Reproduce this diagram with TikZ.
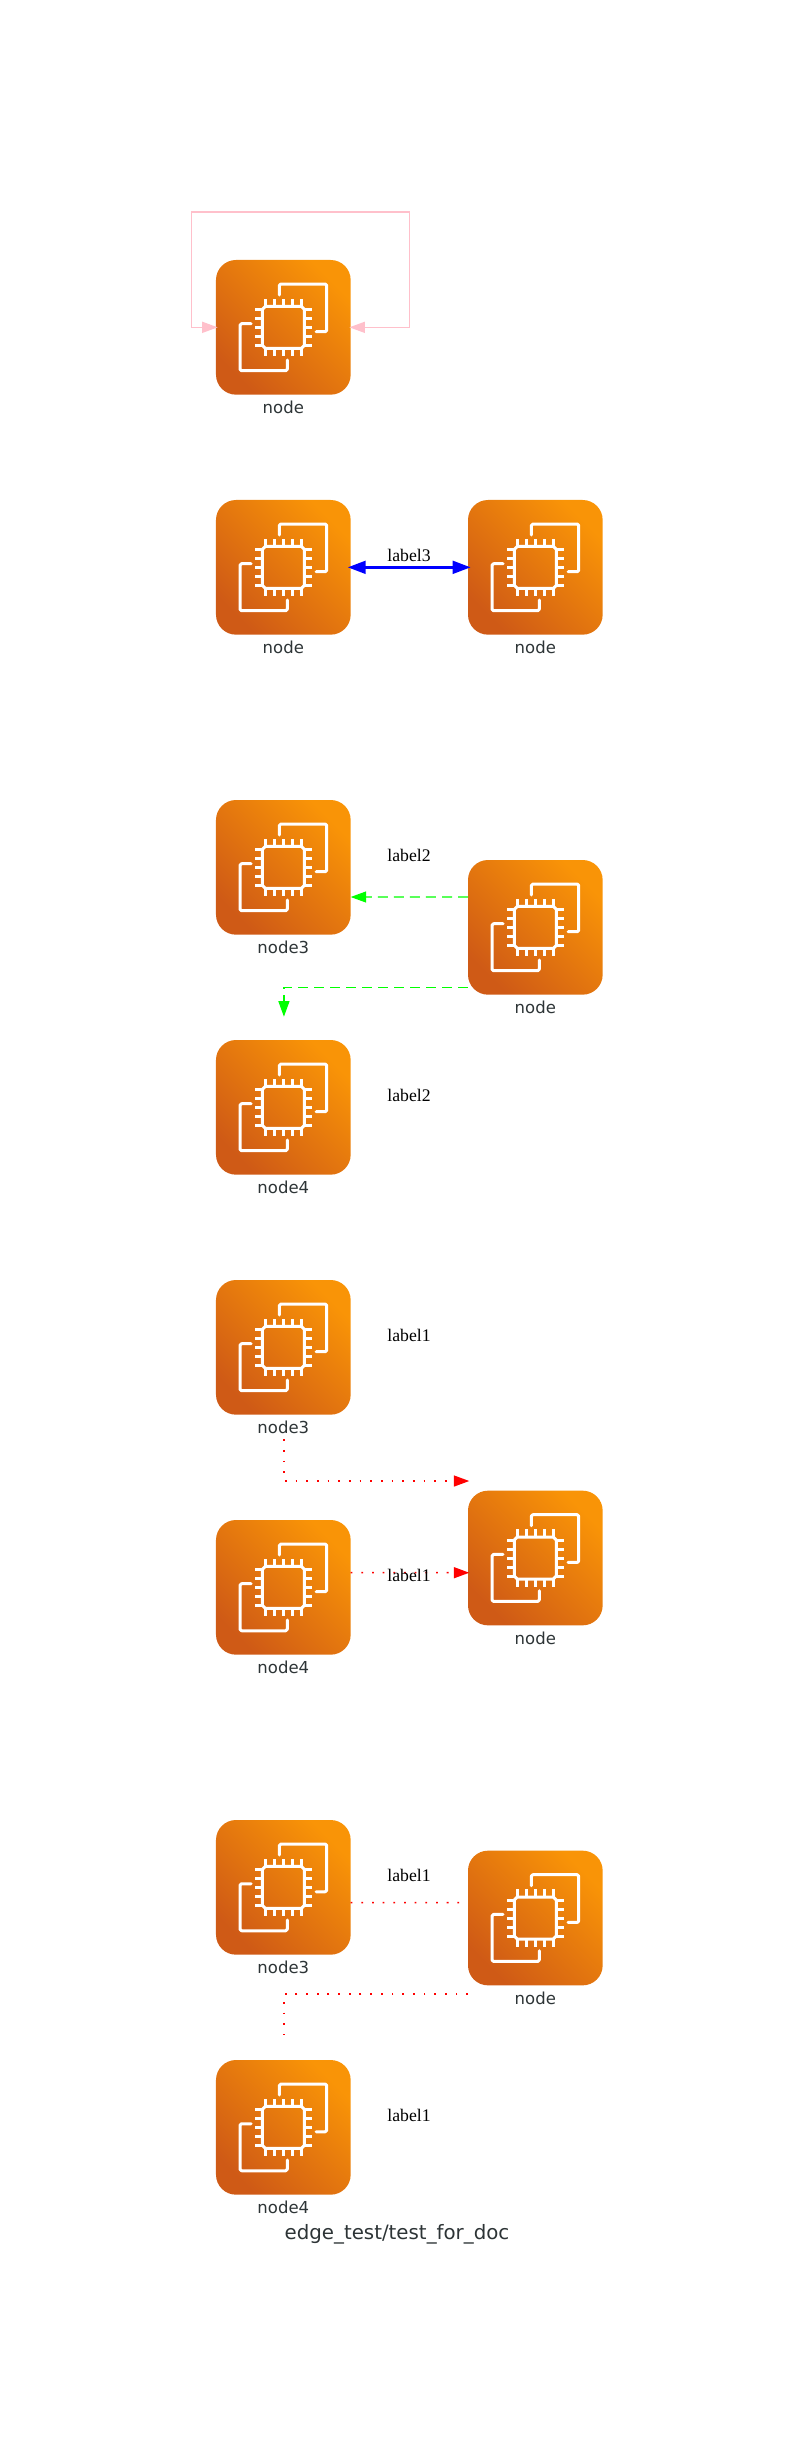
\documentclass[tikz,border=0pt]{standalone}
\usepackage{fontspec}
\setmainfont{DejaVu Sans}
\newfontfamily\edgefont{Liberation Serif}
\usetikzlibrary{arrows.meta,calc}
\definecolor{awsdark}{HTML}{CF5A16}
\definecolor{awslight}{HTML}{F99407}
\definecolor{inktext}{HTML}{2D3436}
\definecolor{pinkline}{HTML}{FFC0CB}
\tikzset{
  iconbox/.style={rectangle,minimum size=134.67bp,inner sep=0pt,outer sep=0pt,rounded corners=20bp,
    bottom color=awsdark,top color=awslight,middle color=awsdark!50!awslight,shading angle=-45},
  nodetext/.style={anchor=base,inner sep=0pt,text=inktext,font=\fontsize{16.5bp}{20bp}\selectfont},
  titletext/.style={anchor=base,inner sep=0pt,text=inktext,font=\fontsize{19.8bp}{24bp}\selectfont},
  edgetext/.style={anchor=base,inner sep=0pt,text=black,font=\edgefont\fontsize{17.7bp}{21bp}\selectfont},
  chipline/.style={draw=white,line width=3bp,line cap=round,line join=round,rounded corners=1.5bp},
  pintick/.style={draw=white,line width=3bp},
  pinkedge/.style={draw=pinkline,line width=1.4bp},
  blueedge/.style={draw=blue,line width=3bp},
  greenedge/.style={draw=green,line width=1.2bp,dash pattern=on 10bp off 6bp},
  rededge/.style={draw=red,line width=1.5bp,dash pattern=on 1.8bp off 8.87bp},
  pinktip/.tip={Triangle[length=15.5bp,width=11bp,color=pinkline]},
  bluetip/.tip={Triangle[length=18bp,width=12.6bp,color=blue]},
  greentip/.tip={Triangle[length=15.5bp,width=11bp,color=green]},
  redtip/.tip={Triangle[length=15.5bp,width=11bp,color=red]},
  chipicon/.pic={
    \draw[chipline] (-4,-32.3) -- (-4,-43.3) -- (43.4,-43.3) -- (43.4,4.4) -- (32.7,4.4);
    \draw[chipline] (-32.3,-3.6) -- (-43.3,-3.6) -- (-43.3,43.4) -- (4,43.4) -- (4,32.7);
    \foreach \p in {-18,-9,0,9,18}{
      \draw[pintick] (\p,-21) -- (\p,-28.7);
      \draw[pintick] (\p,21) -- (\p,28.7);
      \draw[pintick] (-21,\p) -- (-28.7,\p);
      \draw[pintick] (21,\p) -- (28.7,\p);
    }
    \draw[draw=white,line width=3bp,line join=round]
      (-18,-21) -- (18,-21) -- (21,-18) -- (21,18) -- (18,21) -- (-18,21) -- (-21,18) -- (-21,-18) -- cycle;
  }
}
\begin{document}
\begin{tikzpicture}[x=1bp,y=-1bp]
\useasboundingbox (0,0) rectangle (795,2444);

% icons
\node[iconbox] (a1) at (283.33,327.33) {};
\node[iconbox] (b1) at (283.33,567.33) {};
\node[iconbox] (b2) at (535.33,567.33) {};
\node[iconbox] (c1) at (283.33,867.33) {};
\node[iconbox] (c2) at (535.33,927.33) {};
\node[iconbox] (c3) at (283.33,1107.33) {};
\node[iconbox] (d1) at (283.33,1347.33) {};
\node[iconbox] (d2) at (535.33,1558) {};
\node[iconbox] (d3) at (283.33,1587.33) {};
\node[iconbox] (e1) at (283.33,1887.33) {};
\node[iconbox] (e2) at (535.33,1918) {};
\node[iconbox] (e3) at (283.33,2127.33) {};
\foreach \n in {a1,b1,b2,c1,c2,c3,d1,d2,d3,e1,e2,e3}{
  \pic at (\n.center) {chipicon};
}

% icon captions
\node[nodetext] (ta1) at ([yshift=-18.7bp]a1.south) {node};
\node[nodetext] (tb1) at ([yshift=-18.7bp]b1.south) {node};
\node[nodetext] (tb2) at ([yshift=-18.7bp]b2.south) {node};
\node[nodetext] (tc1) at ([yshift=-18.7bp]c1.south) {node3};
\node[nodetext] (tc2) at ([yshift=-18.7bp]c2.south) {node};
\node[nodetext] (tc3) at ([yshift=-18.7bp]c3.south) {node4};
\node[nodetext] (td1) at ([yshift=-18.7bp]d1.south) {node3};
\node[nodetext] (td2) at ([yshift=-18.7bp]d2.south) {node};
\node[nodetext] (td3) at ([yshift=-18.7bp]d3.south) {node4};
\node[nodetext] (te1) at ([yshift=-18.7bp]e1.south) {node3};
\node[nodetext] (te2) at ([yshift=-18.7bp]e2.south) {node};
\node[nodetext] (te3) at ([yshift=-18.7bp]e3.south) {node4};
\node[titletext] (title) at (397,2239) {edge\_test/test\_for\_doc};

% connectors
\coordinate (loopL) at (191.7,212);
\coordinate (loopR) at (409.3,212);
\draw[pinkedge,pinktip-pinktip,shorten <=-1.7bp,shorten >=-1.3bp]
  (a1.west) -| (loopL) -- (loopR) |- (a1.east);
\draw[blueedge,bluetip-bluetip,shorten <=-3bp,shorten >=-2.7bp] (b1.east) -- (b2.west);
\draw[greenedge,-greentip] ([yshift=30.33bp]c2.west) -- ([yshift=-29.67bp]c1.east);
\draw[greenedge,-greentip] ([yshift=-59.9bp]c2.west) -| ([xshift=0.6bp,yshift=23.3bp]c3.north);
\draw[rededge,-redtip] ([xshift=0.6bp,yshift=-24.6bp]d1.south) |- ([xshift=1.3bp,yshift=77bp]d2.west);
\draw[rededge,-redtip] ([yshift=14.63bp]d3.east) -- ([xshift=1.3bp,yshift=-14.7bp]d2.west);
\draw[rededge] ([yshift=-15.37bp]e1.east) -- ([yshift=15.3bp]e2.west);
\draw[rededge] ([yshift=-76bp]e2.west) -| ([xshift=0.6bp,yshift=25bp]e3.north);

% edge labels
\node[edgetext] (l3) at (409,561.7) {label3};
\node[edgetext] (l2a) at (409,861.7) {label2};
\node[edgetext] (l2b) at (409,1101.7) {label2};
\node[edgetext] (l1a) at (409,1341.7) {label1};
\node[edgetext] (l1b) at (409,1581.7) {label1};
\node[edgetext] (l1c) at (409,1881.7) {label1};
\node[edgetext] (l1d) at (409,2121.7) {label1};
\end{tikzpicture}
\end{document}
